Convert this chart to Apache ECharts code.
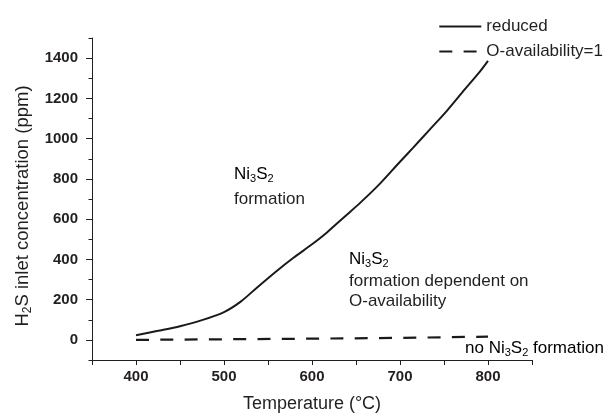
<!DOCTYPE html>
<html>
<head>
<meta charset="utf-8">
<script src="https://cdn.jsdelivr.net/npm/echarts@6/dist/echarts.min.js"></script>
<style>
html, body { margin: 0; padding: 0; background: #fff; }
#chart { width: 608px; height: 418px; }
</style>
</head>
<body>
<div id="chart"></div>
<script>
// temperature points (°C)
const temps = [400, 425, 450, 475, 500, 519, 538, 562, 579, 600, 617, 637, 655, 677, 700, 715, 734, 753, 771, 791, 800];
// H2S inlet concentration (ppm), reduced
const reduced = [23, 45, 68, 98, 138, 190, 262, 350, 408, 475, 534, 612, 682, 775, 885, 955, 1046, 1137, 1231, 1334, 1386];
// O-availability=1 line
const oTemps = [400, 500, 600, 700, 800];
const oAvail = [0, 3, 6, 10, 16];
// tick labels
const xLabels = [400, 500, 600, 700, 800];
const yLabels = [0, 200, 400, 600, 800, 1000, 1200, 1400];

const ink = '#231f20';
const font = "'Liberation Sans', Arial, sans-serif";

// rich styles for subscripts
const richText = {
  a: { fontSize: 17, lineHeight: 20, fontFamily: font, color: ink },
  s: { fontSize: 11, lineHeight: 10, fontFamily: font, color: ink, verticalAlign: 'bottom' }
};

var chartDom = document.getElementById('chart');
var myChart = echarts.init(chartDom);
var option = {
  animation: false,
  grid: { left: 92, right: 76, top: 38, bottom: 55 },
  legend: {
    orient: 'vertical',
    right: 0,
    top: 13,
    itemWidth: 42,
    itemHeight: 14,
    itemGap: 8,
    itemStyle: { opacity: 0 },
    textStyle: { fontSize: 17, color: ink, fontFamily: font },
    data: ['reduced', 'O-availability=1']
  },
  xAxis: {
    type: 'value',
    min: 350,
    max: 850,
    interval: 50,
    name: 'Temperature (°C)',
    nameLocation: 'middle',
    nameGap: 35,
    nameTextStyle: { fontSize: 18, color: ink, fontFamily: font },
    axisLine: { onZero: false, lineStyle: { color: ink, width: 1 } },
    axisTick: { length: 5, lineStyle: { color: ink } },
    axisLabel: {
      customValues: xLabels,
      formatter: v => String(v),
      fontSize: 15, fontWeight: 'bold', color: ink, fontFamily: font, margin: 9
    },
    splitLine: { show: false }
  },
  yAxis: [
    {
      type: 'value',
      min: -100,
      max: 1500,
      name: '{b|H}{t|2}{b|S inlet concentration (ppm)}',
      nameLocation: 'middle',
      nameGap: 56,
      nameTextStyle: {
        padding: [0, 14, 0, 0],
        rich: {
          b: { fontSize: 18.5, lineHeight: 22, fontFamily: font, color: ink },
          t: { fontSize: 12, lineHeight: 10, fontFamily: font, color: ink, verticalAlign: 'bottom' }
        }
      },
      axisLine: { show: true, lineStyle: { color: ink, width: 1 } },
      axisTick: { customValues: yLabels, length: 6, lineStyle: { color: ink } },
      axisLabel: {
        customValues: yLabels,
        formatter: v => String(v),
        fontSize: 15, fontWeight: 'bold', color: ink, fontFamily: font, margin: 14
      },
      splitLine: { show: false }
    },
    {
      // minor ticks every 100
      type: 'value',
      min: -100,
      max: 1500,
      interval: 100,
      position: 'left',
      axisLine: { show: false },
      axisTick: { show: true, length: 3.5, lineStyle: { color: ink } },
      axisLabel: { show: false },
      splitLine: { show: false }
    }
  ],
  series: [
    {
      name: 'reduced',
      type: 'line',
      data: temps.map((t, i) => [t, reduced[i]]),
      smooth: 0.3,
      symbol: 'none',
      color: '#1a1a1a',
      lineStyle: { color: '#1a1a1a', width: 2 }
    },
    {
      name: 'O-availability=1',
      type: 'line',
      data: oTemps.map((t, i) => [t, oAvail[i]]),
      symbol: 'none',
      color: '#1a1a1a',
      lineStyle: { color: '#1a1a1a', width: 2.2, type: [13, 11.3] }
    }
  ],
  graphic: [
    { type: 'text', x: 234, y: 164, style: { text: '{a|Ni}{s|3}{a|S}{s|2}', rich: richText } },
    { type: 'text', x: 234, y: 199, style: { text: 'formation', fontSize: 17, fontFamily: font, fill: ink, verticalAlign: 'middle' } },
    { type: 'text', x: 349, y: 249, style: { text: '{a|Ni}{s|3}{a|S}{s|2}', rich: richText } },
    { type: 'text', x: 349, y: 281, style: { text: 'formation dependent on', fontSize: 17, fontFamily: font, fill: ink, verticalAlign: 'middle' } },
    { type: 'text', x: 349, y: 301, style: { text: 'O-availability', fontSize: 17, fontFamily: font, fill: ink, verticalAlign: 'middle' } },
    { type: 'text', x: 465, y: 338, style: { text: '{a|no Ni}{s|3}{a|S}{s|2}{a| formation}', rich: richText } }
  ]
};
option && myChart.setOption(option);
</script>
</body>
</html>
